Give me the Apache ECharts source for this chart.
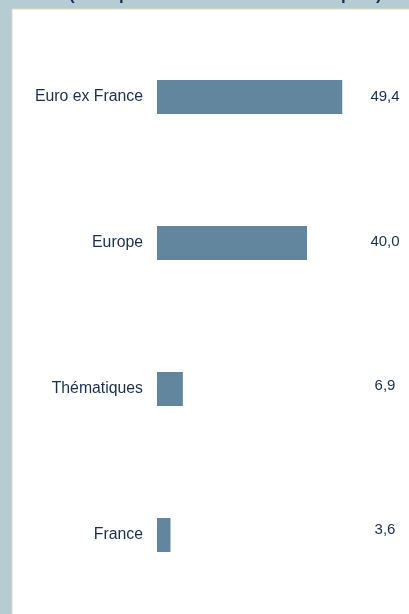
<!DOCTYPE html>
<html><head><meta charset="utf-8">
<script src="https://cdn.jsdelivr.net/npm/echarts@6/dist/echarts.min.js"></script>
<style>html,body{margin:0;padding:0;background:#b6ccd3;}#c{width:409px;height:614px;}</style>
</head><body><div id="c"></div>
<script>
const categories = ['Euro ex France', 'Europe', 'Thématiques', 'France'];
const values = [49.4, 40.0, 6.9, 3.6];
const titleText = '(en % par zone de l\u2019actif net en capital)';

const fmt = v => v.toFixed(1).replace('.', ',');
const chart = echarts.init(document.getElementById('c'), null, {renderer: 'canvas'});
const textColor = '#1b2f4f';
const lift = [0, 2, 6, 10];
const rich = {};
lift.forEach((p, i) => { rich['o' + i] = {padding: [0, 0, p, 0], color: textColor, fontSize: 15, fontFamily: 'Arial, "Liberation Sans"', align: 'center'}; });
chart.setOption({
  backgroundColor: '#b6ccd3',
  animation: false,
  graphic: [
    {type: 'rect', left: 11.5, top: 8.5, z: -10, shape: {width: 420, height: 620},
     style: {fill: '#ffffff', stroke: '#e3d6bf', lineWidth: 1}},
    {type: 'text', x: 69, y: 3.5, z: 10,
     style: {text: titleText, font: 'bold 17px Arial, "Liberation Sans"', fill: '#17305a', verticalAlign: 'bottom'}}
  ],
  grid: {left: 157, top: 24, width: 187.5, height: 584},
  xAxis: {type: 'value', min: 0, max: 50, show: false},
  yAxis: [
    {type: 'category', data: categories, inverse: true,
     axisLine: {show: false}, axisTick: {show: false}, splitLine: {show: false},
     axisLabel: {color: textColor, fontSize: 15.8, fontFamily: 'Arial, "Liberation Sans"', margin: 14}},
    {type: 'category', data: values.map(fmt), inverse: true, position: 'right',
     axisLine: {show: false}, axisTick: {show: false}, splitLine: {show: false},
     axisLabel: {color: textColor, fontSize: 15, fontFamily: 'Arial, "Liberation Sans"', margin: 40.5, align: 'center',
       formatter: (v, i) => '{o' + i + '|' + v + '}', rich: rich}}
  ],
  series: [{
    type: 'bar', data: values, barWidth: 34, yAxisIndex: 0,
    itemStyle: {color: '#62869e'}
  }]
});
</script></body></html>
